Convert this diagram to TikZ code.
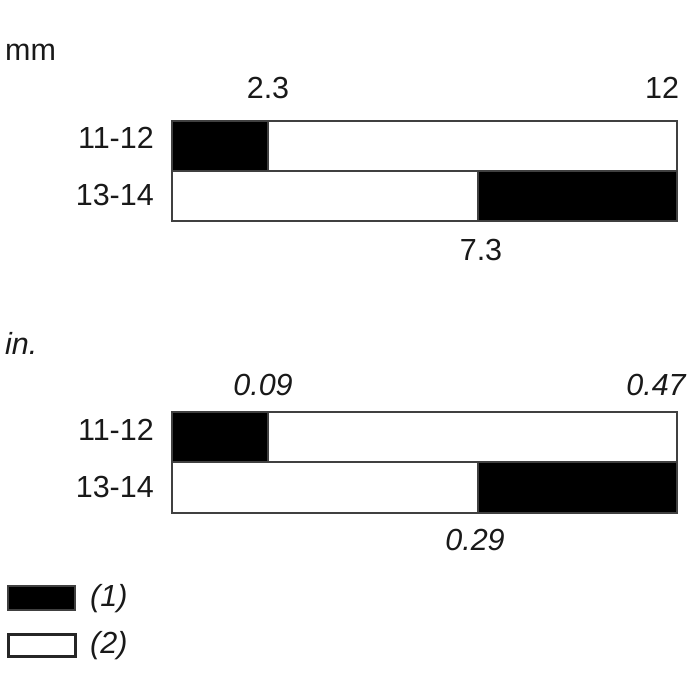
\documentclass[tikz,border=0pt]{standalone}
\usepackage{fontspec}
\setmainfont{Liberation Sans}
\begin{document}
\begin{tikzpicture}[x=1pt,y=-1pt,
  lbl/.style={font=\fontsize{30.5}{31}\selectfont, inner sep=0pt, text=black!90},
  ilbl/.style={lbl, font=\fontsize{30.5}{31}\selectfont\itshape},
  blk/.style={fill=black, draw=black!75, line width=2.5pt},
  wht/.style={fill=white, draw=black!75, line width=2.5pt}]
\useasboundingbox (0,0) rectangle (700,700);
% mm section
\node[lbl, anchor=west] (mm) at (5,52) {mm};
\node[lbl] (t23) at (268,88) {2.3};
\node[lbl] (t12) at (662,88) {12};
\node[lbl, anchor=east] (r1) at (154,138) {11-12};
\node[lbl, anchor=east] (r2) at (154,195) {13-14};
\draw[wht] (172,121) rectangle (677,171);
\draw[blk] (172,121) rectangle (268,171);
\draw[wht] (172,171) rectangle (478,221);
\draw[blk] (478,171) rectangle (677,221);
\node[lbl] (t73) at (481,250) {7.3};
% in section
\node[ilbl, anchor=west] (in) at (5,343) {in.};
\node[ilbl] (t009) at (263,385) {0.09};
\node[ilbl] (t047) at (656,385) {0.47};
\node[lbl, anchor=east] (r3) at (154,430) {11-12};
\node[lbl, anchor=east] (r4) at (154,487) {13-14};
\draw[wht] (172,412) rectangle (677,462);
\draw[blk] (172,412) rectangle (268,462);
\draw[wht] (172,462) rectangle (478,513);
\draw[blk] (478,462) rectangle (677,513);
\node[ilbl] (t029) at (475,540) {0.29};
% legend
\draw[blk] (8,586) rectangle (75,610);
\draw[wht, draw=black!85, line width=3pt] (8,634) rectangle (75,656);
\node[ilbl, anchor=west] (l1) at (90,599) {(1)};
\node[ilbl, anchor=west] (l2) at (90,646) {(2)};
\end{tikzpicture}
\end{document}
